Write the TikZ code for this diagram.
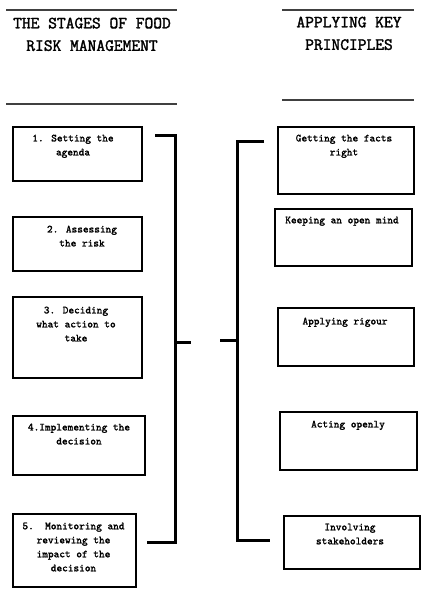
\documentclass[tikz,border=0pt]{standalone}
\usepackage{fontspec}
\newfontfamily\boxmono{Latin Modern Mono}[FakeBold=1.6]
\newfontfamily\headmono{Latin Modern Mono}[FakeBold=2.0]
\begin{document}
\begin{tikzpicture}[x=1pt,y=-1pt,
  box/.style={draw=black,line width=1.6pt,rectangle,inner sep=0pt,anchor=north west},
  boxtext/.style={anchor=north,align=center,inner sep=0pt,font=\boxmono\fontsize{10.8}{14}\selectfont},
  headtext/.style={anchor=north,align=center,inner sep=0pt,font=\headmono\fontsize{17}{22.5}\selectfont},
  rule/.style={draw=black!75,line width=1.3pt},
  bracket/.style={draw=black,line width=3pt}]
\useasboundingbox (0,0) rectangle (424,595);
% headers
\coordinate (lt1) at (6,10); \coordinate (lt2) at (177,10);
\coordinate (lb1) at (6,104); \coordinate (lb2) at (177,104);
\coordinate (rt1) at (282,10); \coordinate (rt2) at (414,10);
\coordinate (rb1) at (282,100); \coordinate (rb2) at (414,100);
\draw[rule] (lt1) -- (lt2);
\draw[rule] (lb1) -- (lb2);
\draw[rule] (rt1) -- (rt2);
\draw[rule] (rb1) -- (rb2);
\node[headtext] (hl) at (92,17.5) {THE STAGES OF FOOD\\RISK MANAGEMENT};
\node[headtext] (hr) at (349,16.5) {APPLYING KEY\\PRINCIPLES};
% left boxes
\node[box,minimum width=129pt,minimum height=54pt] (b1) at (12,126) {};
\node[box,minimum width=129pt,minimum height=54pt] (b2) at (12,216) {};
\node[box,minimum width=129pt,minimum height=81pt] (b3) at (12,296) {};
\node[box,minimum width=132pt,minimum height=59pt] (b4) at (12,415) {};
\node[box,minimum width=123pt,minimum height=73pt] (b5) at (12,513) {};
\node[boxtext] (t1) at (73,134.5) {1. Setting the\\agenda};
\node[boxtext] (t2) at (82,225.5) {2. Assessing\\the risk};
\node[boxtext] (t3) at (76,306.5) {3. Deciding\\what action to\\take};
\node[boxtext] (t4) at (79,423.5) {4.Implementing the\\decision};
\node[boxtext] (t5) at (73.5,522.5) {5.\ \ Monitoring and\\reviewing the\\impact of the\\decision};
% right boxes
\node[box,minimum width=136pt,minimum height=67pt] (r1) at (277,126) {};
\node[box,minimum width=137pt,minimum height=57pt] (r2) at (274,208) {};
\node[box,minimum width=136pt,minimum height=58pt] (r3) at (277,307) {};
\node[box,minimum width=137pt,minimum height=58pt] (r4) at (279,411) {};
\node[box,minimum width=136pt,minimum height=53pt] (r5) at (283,515) {};
\node[boxtext] (s1) at (344,134.5) {Getting the facts\\right};
\node[boxtext] (s2) at (342,216.5) {Keeping an open mind};
\node[boxtext] (s3) at (345,317.5) {Applying rigour};
\node[boxtext] (s4) at (348,420.5) {Acting openly};
\node[boxtext] (s5) at (350,523.5) {Involving\\stakeholders};
% left bracket
\coordinate (la) at (155,135); \coordinate (lc) at (175,135);
\coordinate (ld) at (175,542); \coordinate (le) at (147,542);
\coordinate (lm) at (175,342); \coordinate (ln) at (191,342);
\draw[bracket] (la) -- (lc) -- (ld) -- (le);
\draw[bracket] (lm) -- (ln);
% right bracket
\coordinate (ra) at (264,141); \coordinate (rc) at (237,141);
\coordinate (rd) at (237,540); \coordinate (re) at (270,540);
\coordinate (rm) at (237,340); \coordinate (rn) at (220,340);
\draw[bracket] (ra) -- (rc) -- (rd) -- (re);
\draw[bracket] (rm) -- (rn);
\end{tikzpicture}
\end{document}
